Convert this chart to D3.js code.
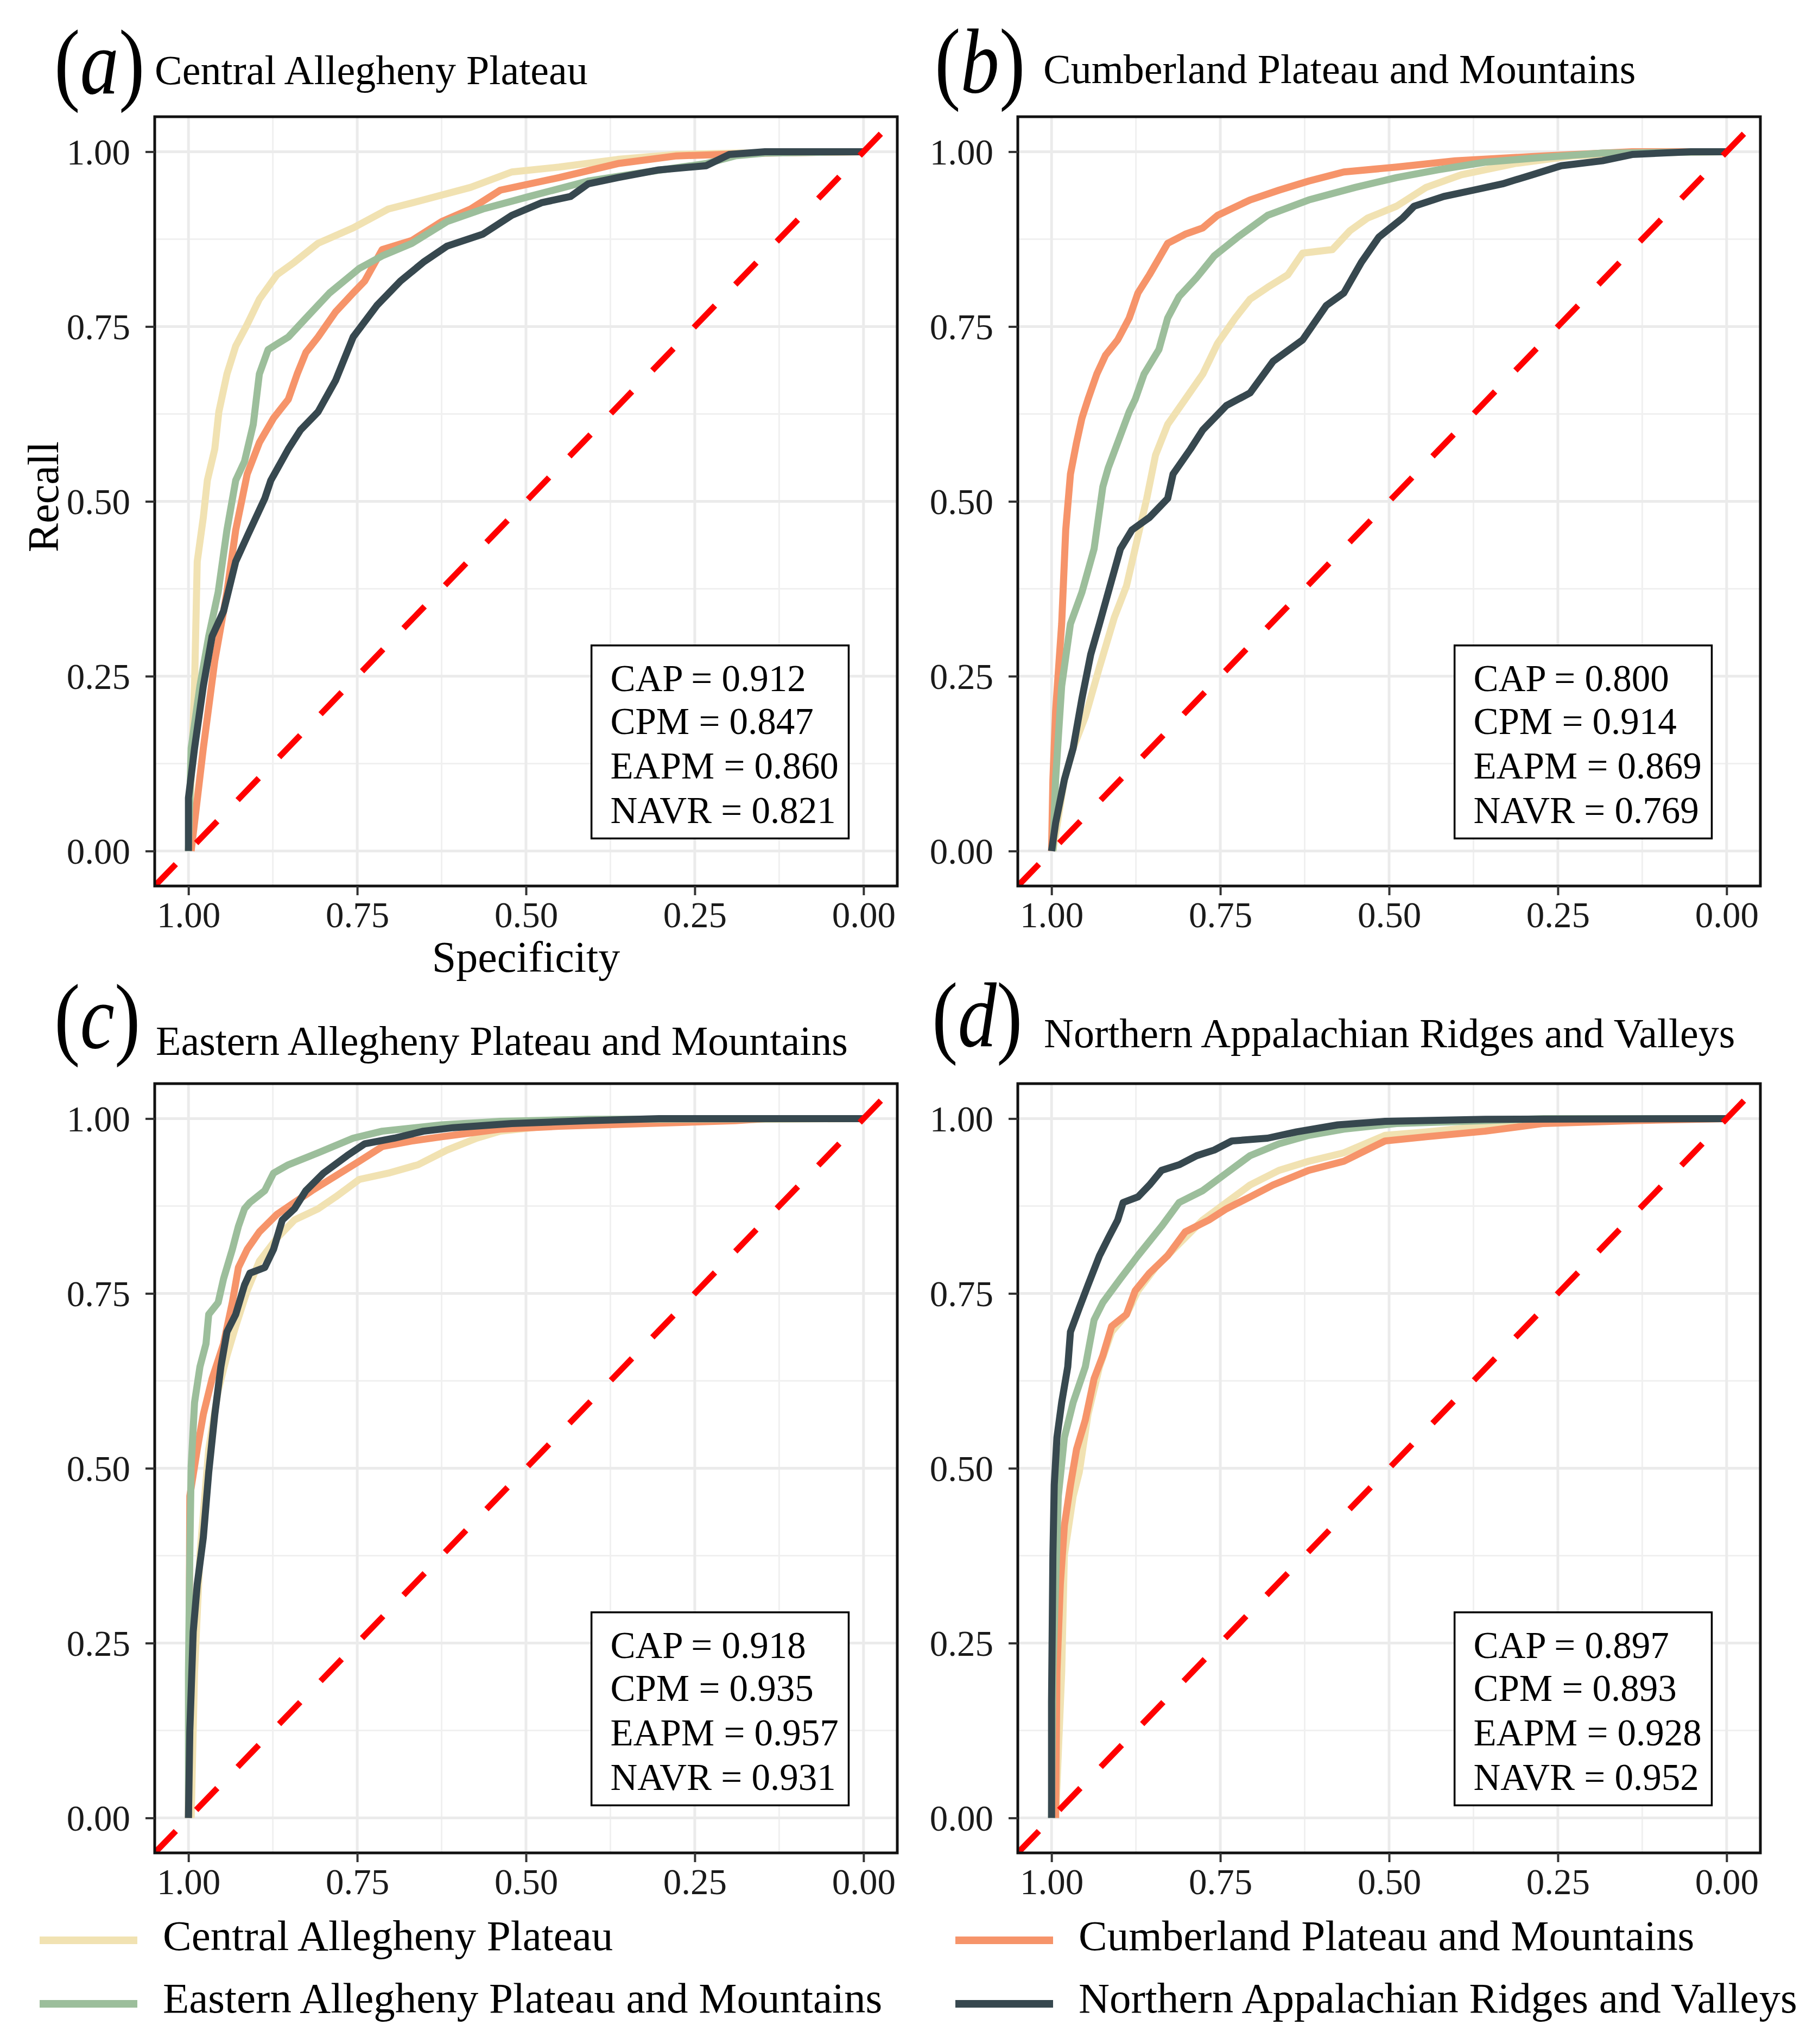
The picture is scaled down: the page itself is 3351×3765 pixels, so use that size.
<!DOCTYPE html>
<html>
<head>
<meta charset="utf-8">
<script src="https://cdn.jsdelivr.net/npm/d3@7"></script>
<style>
  body { margin: 0; background: #fff; }
  svg { display: block; font-family: "Liberation Serif", "DejaVu Serif", serif; }
</style>
</head>
<body>
<svg id="chart" width="3351" height="3765"></svg>
<script>
// Regions, in the order the curves are drawn
const regions = [
	"Central Allegheny Plateau",
	"Cumberland Plateau and Mountains",
	"Eastern Allegheny Plateau and Mountains",
	"Northern Appalachian Ridges and Valleys"
];
const regionCodes = ["CAP", "CPM", "EAPM", "NAVR"];
const regionColors = ["#F1E2B2", "#F6946A", "#9CBE9B", "#37484F"];

const panelLetters = ["a", "b", "c", "d"];
const tickValues = [1, 0.75, 0.5, 0.25, 0];
const minorTicks = [0.875, 0.625, 0.375, 0.125];

// AUC per panel (CAP, CPM, EAPM, NAVR)
const aucA = [0.912, 0.847, 0.860, 0.821];
const aucB = [0.800, 0.914, 0.869, 0.769];
const aucC = [0.918, 0.935, 0.957, 0.931];
const aucD = [0.897, 0.893, 0.928, 0.952];

// ROC curves, [specificity, recall]
// (a) Central Allegheny Plateau models
const rocA_CAP = [[1,0],[0.991,0.236],[0.987,0.414],[0.978,0.477],[0.972,0.530],[0.961,0.575],[0.955,0.628],[0.943,0.682],[0.930,0.722],[0.913,0.753],[0.895,0.789],[0.869,0.824],[0.843,0.842],[0.808,0.869],[0.756,0.891],[0.704,0.918],[0.652,0.931],[0.582,0.949],[0.521,0.971],[0.451,0.978],[0.364,0.989],[0.277,0.996],[0.190,0.998],[0,1]];
const rocA_CPM = [[0.996,0],[0.978,0.147],[0.961,0.272],[0.943,0.370],[0.930,0.459],[0.913,0.539],[0.895,0.584],[0.874,0.619],[0.852,0.646],[0.839,0.682],[0.826,0.713],[0.808,0.735],[0.782,0.771],[0.756,0.798],[0.739,0.815],[0.713,0.860],[0.669,0.873],[0.625,0.900],[0.582,0.918],[0.538,0.945],[0.451,0.963],[0.364,0.983],[0.277,0.994],[0.146,0.998],[0,1]];
const rocA_EAPM = [[1,0],[0.996,0.147],[0.983,0.236],[0.970,0.307],[0.956,0.370],[0.943,0.459],[0.930,0.530],[0.917,0.557],[0.904,0.610],[0.895,0.682],[0.882,0.717],[0.852,0.735],[0.826,0.762],[0.791,0.798],[0.747,0.833],[0.713,0.851],[0.669,0.869],[0.617,0.900],[0.564,0.918],[0.495,0.936],[0.408,0.958],[0.321,0.971],[0.233,0.983],[0.190,0.994],[0.146,0.998],[0,1]];
const rocA_NAVR = [[1,0],[1,0.076],[0.991,0.147],[0.978,0.236],[0.965,0.307],[0.948,0.343],[0.930,0.414],[0.913,0.450],[0.887,0.504],[0.878,0.530],[0.852,0.575],[0.834,0.602],[0.808,0.628],[0.782,0.673],[0.756,0.735],[0.721,0.780],[0.686,0.815],[0.652,0.842],[0.617,0.865],[0.564,0.882],[0.521,0.909],[0.477,0.927],[0.434,0.936],[0.408,0.954],[0.364,0.963],[0.303,0.974],[0.233,0.980],[0.199,0.996],[0.146,1],[0,1]];

// (b) Cumberland Plateau and Mountains
const rocB_CAP = [[0.998,0],[0.981,0.102],[0.968,0.147],[0.950,0.192],[0.929,0.263],[0.907,0.334],[0.889,0.379],[0.872,0.450],[0.859,0.504],[0.846,0.566],[0.828,0.610],[0.802,0.646],[0.776,0.682],[0.754,0.726],[0.728,0.762],[0.706,0.789],[0.680,0.806],[0.650,0.824],[0.628,0.855],[0.584,0.860],[0.558,0.887],[0.532,0.905],[0.489,0.922],[0.445,0.949],[0.393,0.967],[0.314,0.983],[0.227,0.994],[0.140,0.998],[0,1]];
const rocB_CPM = [[1,0],[0.998,0.102],[0.994,0.200],[0.985,0.325],[0.979,0.459],[0.972,0.539],[0.963,0.584],[0.955,0.619],[0.946,0.646],[0.933,0.682],[0.920,0.709],[0.902,0.731],[0.885,0.762],[0.872,0.798],[0.855,0.824],[0.828,0.869],[0.802,0.882],[0.776,0.891],[0.754,0.909],[0.706,0.931],[0.663,0.945],[0.619,0.958],[0.567,0.971],[0.489,0.978],[0.402,0.987],[0.271,0.994],[0.140,1],[0,1]];
const rocB_EAPM = [[0.998,0],[0.994,0.102],[0.985,0.236],[0.972,0.325],[0.955,0.370],[0.937,0.432],[0.924,0.521],[0.916,0.548],[0.902,0.584],[0.885,0.628],[0.876,0.646],[0.863,0.682],[0.841,0.717],[0.828,0.762],[0.811,0.793],[0.785,0.820],[0.759,0.851],[0.724,0.878],[0.680,0.909],[0.619,0.931],[0.550,0.949],[0.489,0.963],[0.428,0.974],[0.358,0.985],[0.271,0.992],[0.184,0.998],[0,1]];
const rocB_NAVR = [[1,0],[0.994,0.040],[0.981,0.102],[0.968,0.147],[0.955,0.218],[0.942,0.281],[0.929,0.325],[0.916,0.370],[0.898,0.432],[0.881,0.459],[0.855,0.477],[0.828,0.504],[0.820,0.539],[0.794,0.575],[0.776,0.602],[0.741,0.637],[0.706,0.655],[0.672,0.700],[0.628,0.731],[0.593,0.780],[0.567,0.798],[0.541,0.842],[0.515,0.878],[0.480,0.905],[0.463,0.922],[0.419,0.936],[0.375,0.945],[0.332,0.954],[0.288,0.967],[0.245,0.980],[0.184,0.987],[0.140,0.996],[0.053,1],[0,1]];

// (c) Eastern Allegheny Plateau and Mountains
const rocC_CAP = [[0.996,0],[0.991,0.208],[0.983,0.376],[0.970,0.527],[0.956,0.611],[0.943,0.661],[0.930,0.703],[0.913,0.754],[0.895,0.796],[0.869,0.829],[0.843,0.855],[0.808,0.871],[0.782,0.888],[0.747,0.913],[0.704,0.922],[0.660,0.934],[0.617,0.955],[0.573,0.972],[0.538,0.982],[0.451,0.991],[0.321,0.996],[0.146,0.999],[0,1]];
const rocC_CPM = [[1,0],[0.998,0.460],[0.987,0.527],[0.978,0.577],[0.965,0.628],[0.948,0.678],[0.935,0.737],[0.926,0.787],[0.913,0.813],[0.895,0.838],[0.869,0.863],[0.843,0.880],[0.817,0.897],[0.782,0.918],[0.747,0.939],[0.713,0.960],[0.669,0.968],[0.625,0.974],[0.538,0.985],[0.451,0.989],[0.321,0.993],[0.190,0.997],[0.146,1],[0,1]];
const rocC_EAPM = [[1,0],[1,0.208],[0.998,0.376],[0.996,0.502],[0.991,0.594],[0.983,0.645],[0.974,0.678],[0.970,0.720],[0.956,0.737],[0.948,0.771],[0.935,0.813],[0.926,0.846],[0.917,0.871],[0.909,0.880],[0.887,0.897],[0.874,0.922],[0.852,0.934],[0.808,0.951],[0.756,0.972],[0.713,0.982],[0.625,0.991],[0.538,0.996],[0.408,0.999],[0,1]];
const rocC_NAVR = [[1,0],[0.998,0.124],[0.993,0.266],[0.987,0.334],[0.978,0.401],[0.970,0.494],[0.961,0.577],[0.952,0.645],[0.943,0.695],[0.930,0.720],[0.917,0.762],[0.909,0.779],[0.887,0.787],[0.874,0.813],[0.861,0.855],[0.843,0.871],[0.826,0.897],[0.800,0.922],[0.765,0.947],[0.739,0.964],[0.695,0.972],[0.652,0.982],[0.608,0.987],[0.521,0.993],[0.408,0.997],[0.303,1],[0,1]];

// (d) Northern Appalachian Ridges and Valleys
const rocD_CAP = [[0.994,0],[0.985,0.208],[0.981,0.376],[0.968,0.460],[0.959,0.494],[0.946,0.577],[0.929,0.645],[0.911,0.695],[0.889,0.720],[0.872,0.754],[0.846,0.787],[0.811,0.821],[0.776,0.855],[0.741,0.880],[0.706,0.905],[0.663,0.926],[0.619,0.939],[0.567,0.951],[0.506,0.976],[0.445,0.981],[0.358,0.989],[0.271,0.996],[0.140,0.999],[0,1]];
const rocD_CPM = [[0.994,0],[0.992,0.208],[0.987,0.334],[0.981,0.418],[0.972,0.476],[0.963,0.527],[0.950,0.569],[0.937,0.628],[0.924,0.661],[0.911,0.703],[0.889,0.720],[0.876,0.754],[0.855,0.779],[0.828,0.804],[0.802,0.838],[0.767,0.855],[0.741,0.871],[0.706,0.888],[0.672,0.905],[0.619,0.926],[0.567,0.939],[0.506,0.968],[0.445,0.974],[0.358,0.982],[0.271,0.993],[0.140,0.997],[0,1]];
const rocD_EAPM = [[1,0],[0.998,0.208],[0.990,0.460],[0.981,0.544],[0.968,0.594],[0.950,0.645],[0.937,0.712],[0.924,0.737],[0.898,0.771],[0.872,0.804],[0.837,0.846],[0.811,0.880],[0.776,0.897],[0.741,0.922],[0.706,0.947],[0.663,0.964],[0.619,0.976],[0.567,0.985],[0.489,0.993],[0.358,0.997],[0.271,1],[0,1]];
const rocD_NAVR = [[1,0],[1,0.166],[0.998,0.376],[0.996,0.476],[0.992,0.544],[0.985,0.594],[0.976,0.645],[0.972,0.695],[0.959,0.729],[0.946,0.762],[0.929,0.804],[0.916,0.829],[0.902,0.855],[0.894,0.880],[0.872,0.888],[0.855,0.905],[0.837,0.926],[0.811,0.934],[0.785,0.947],[0.759,0.955],[0.733,0.968],[0.680,0.972],[0.637,0.981],[0.576,0.991],[0.506,0.996],[0.358,0.999],[0,1]];

// panel table built from the arrays above
const panels = [
	{ letter: panelLetters[0], title: regions[0], auc: aucA, curves: [rocA_CAP, rocA_CPM, rocA_EAPM, rocA_NAVR],
	  left: 285, top: 215, labelX: 100, labelY: 172, titleX: 285, titleY: 155, axisTitles: true },
	{ letter: panelLetters[1], title: regions[1], auc: aucB, curves: [rocB_CAP, rocB_CPM, rocB_EAPM, rocB_NAVR],
	  left: 1875, top: 215, labelX: 1722, labelY: 170, titleX: 1922, titleY: 153, axisTitles: false },
	{ letter: panelLetters[2], title: regions[2], auc: aucC, curves: [rocC_CAP, rocC_CPM, rocC_EAPM, rocC_NAVR],
	  left: 285, top: 1996, labelX: 100, labelY: 1930, titleX: 287, titleY: 1943, axisTitles: false },
	{ letter: panelLetters[3], title: regions[3], auc: aucD, curves: [rocD_CAP, rocD_CPM, rocD_EAPM, rocD_NAVR],
	  left: 1875, top: 1996, labelX: 1717, labelY: 1927, titleX: 1923, titleY: 1929, axisTitles: false }
];

const svg = d3.select("#chart");
const W = 1368, H = 1417;
const fmt2 = d3.format(".2f"), fmt3 = d3.format(".3f");

const x = d3.scaleLinear().domain([1.05, -0.05]).range([0, W]);
const y = d3.scaleLinear().domain([-0.05, 1.05]).range([H, 0]);

const line = d3.line()
	.x(d => x(d[0]))
	.y(d => y(d[1]));

svg.append("defs").append("clipPath")
	.attr("id", "plotclip")
	.append("rect")
	.attr("width", W)
	.attr("height", H);

panels.forEach((p, pi) => {
	const g = svg.append("g").attr("transform", `translate(${p.left},${p.top})`);

	// panel letter, e.g. (a)
	const lab = svg.append("text")
		.attr("transform", `translate(${p.labelX},${p.labelY}) scale(0.84,1)`)
		.attr("font-size", 170)
		.attr("fill", "#000");
	lab.append("tspan").text("(");
	lab.append("tspan").attr("font-style", "italic").text(p.letter);
	lab.append("tspan").text(")");

	svg.append("text")
		.attr("x", p.titleX)
		.attr("y", p.titleY)
		.attr("font-size", 76)
		.attr("fill", "#000")
		.text(p.title);

	// grid
	g.selectAll("line.minor-h").data(minorTicks).enter().append("line")
		.attr("x1", 0).attr("x2", W)
		.attr("y1", d => y(d)).attr("y2", d => y(d))
		.attr("stroke", "#F0F0F0").attr("stroke-width", 3);
	g.selectAll("line.minor-v").data(minorTicks).enter().append("line")
		.attr("y1", 0).attr("y2", H)
		.attr("x1", d => x(d)).attr("x2", d => x(d))
		.attr("stroke", "#F0F0F0").attr("stroke-width", 3);
	g.selectAll("line.major-h").data(tickValues).enter().append("line")
		.attr("x1", 0).attr("x2", W)
		.attr("y1", d => y(d)).attr("y2", d => y(d))
		.attr("stroke", "#EBEBEB").attr("stroke-width", 5);
	g.selectAll("line.major-v").data(tickValues).enter().append("line")
		.attr("y1", 0).attr("y2", H)
		.attr("x1", d => x(d)).attr("x2", d => x(d))
		.attr("stroke", "#EBEBEB").attr("stroke-width", 5);

	// ROC curves
	const plot = g.append("g").attr("clip-path", "url(#plotclip)");
	p.curves.forEach((c, i) => {
		plot.append("path")
			.datum(c)
			.attr("d", line)
			.attr("fill", "none")
			.attr("stroke", regionColors[i])
			.attr("stroke-width", 13)
			.attr("stroke-linejoin", "round");
	});

	// chance line
	plot.append("line")
		.attr("x1", x(1.05)).attr("y1", y(-0.05))
		.attr("x2", x(-0.05)).attr("y2", y(1.05))
		.attr("stroke", "#FF0000")
		.attr("stroke-width", 11)
		.attr("stroke-dasharray", "56,54");

	// AUC box
	const bx0 = x(0.403), bx1 = x(0.022), by0 = y(0.294), by1 = y(0.018);
	g.append("rect")
		.attr("x", bx0).attr("y", by0)
		.attr("width", bx1 - bx0).attr("height", by1 - by0)
		.attr("fill", "#fff")
		.attr("stroke", "#000")
		.attr("stroke-width", 3.5);
	const rows = [0.229, 0.167, 0.104, 0.040];
	regionCodes.forEach((code, i) => {
		g.append("text")
			.attr("x", x(0.375))
			.attr("y", y(rows[i]))
			.attr("font-size", 69)
			.attr("fill", "#000")
			.text(`${code} = ${fmt3(p.auc[i])}`);
	});

	// border
	g.append("rect")
		.attr("width", W).attr("height", H)
		.attr("fill", "none")
		.attr("stroke", "#111")
		.attr("stroke-width", 5);

	// axes
	const yAxis = g.append("g")
		.call(d3.axisLeft(y).tickValues(tickValues).tickFormat(fmt2).tickSize(17).tickPadding(28));
	const xAxis = g.append("g")
		.attr("transform", `translate(0,${H})`)
		.call(d3.axisBottom(x).tickValues(tickValues).tickFormat(fmt2).tickSize(17));
	[yAxis, xAxis].forEach(a => {
		a.select(".domain").remove();
		a.selectAll(".tick line").attr("stroke", "#333").attr("stroke-width", 4);
		a.selectAll(".tick text")
			.attr("font-family", "Liberation Serif, serif")
			.attr("font-size", 67)
			.attr("fill", "#1a1a1a");
	});
	yAxis.selectAll(".tick text").attr("dy", "0.34em");
	xAxis.selectAll(".tick text").attr("dy", null).attr("y", 76);

	if (p.axisTitles) {
		svg.append("text")
			.attr("transform", `translate(107,915) rotate(-90)`)
			.attr("text-anchor", "middle")
			.attr("font-size", 80)
			.attr("fill", "#000")
			.text("Recall");
		svg.append("text")
			.attr("x", p.left + W / 2)
			.attr("y", 1790)
			.attr("text-anchor", "middle")
			.attr("font-size", 80)
			.attr("fill", "#000")
			.text("Specificity");
	}
});

// legend, two columns filled row by row
const legendCols = [{ key: 73, text: 300 }, { key: 1760, text: 1987 }];
const legendRows = [{ key: 3574, text: 3592 }, { key: 3691, text: 3707 }];
regions.forEach((name, i) => {
	const col = legendCols[i % 2], row = legendRows[Math.floor(i / 2)];
	svg.append("line")
		.attr("x1", col.key).attr("x2", col.key + 180)
		.attr("y1", row.key).attr("y2", row.key)
		.attr("stroke", regionColors[i])
		.attr("stroke-width", 14);
	svg.append("text")
		.attr("x", col.text)
		.attr("y", row.text)
		.attr("font-size", 79)
		.attr("fill", "#000")
		.text(name);
});
</script>
</body>
</html>
